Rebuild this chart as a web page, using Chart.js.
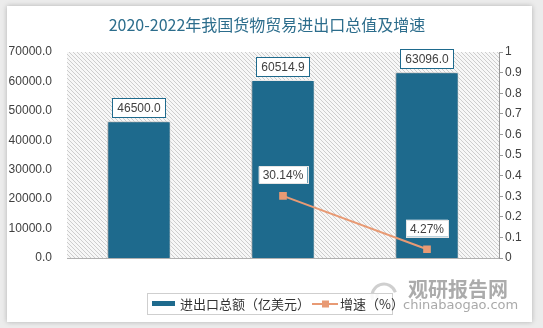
<!DOCTYPE html>
<html>
<head>
<meta charset="utf-8">
<script src="https://cdn.jsdelivr.net/npm/chart.js@4.4.1/dist/chart.umd.min.js"></script>
<style>
  html, body { margin: 0; padding: 0; background: #ececec; width: 543px; height: 328px; overflow: hidden; }
  #card { position: absolute; left: 7px; top: 6px; width: 525px; height: 316px; background: #fff; box-shadow: 0 0 5px rgba(0,0,0,0.25); }
  canvas { display: block; }
</style>
</head>
<body>
<div id="card"><canvas id="myChart" width="525" height="316"></canvas></div>
<script>
// chart data
const years = ["2020年", "2021年", "2022年"];
const totalTrade = [46500.0, 60514.9, 63096.0];   // 亿美元
const growthRate = [null, 0.3014, 0.0427];         // 增速
const growthLabels = [null, "30.14%", "4.27%"];

const titleText = "2020-2022年我国货物贸易进出口总值及增速";
const barLegend = "进出口总额（亿美元）";
const lineLegend = "增速（%）";

const barColor = "#1e6a8d";
const lineColor = "#e89a74";
const numFont = "'Liberation Sans', Arial, sans-serif";
const cjkFont = "'Noto Sans CJK SC', sans-serif";

// hatched background for the plot area
function makeHatch() {
    const c = document.createElement("canvas");
    c.width = 4; c.height = 4;
    const g = c.getContext("2d");
    g.fillStyle = "#f7f7f7";
    g.fillRect(0, 0, 4, 4);
    g.fillStyle = "#cdcdcd";
    for (let i = 0; i < 4; i++) g.fillRect(i, i, 1, 1);
    return g.createPattern(c, "repeat");
}

const decorPlugin = {
    id: "decor",
    beforeDraw(chart) {
        const { ctx, chartArea: a } = chart;
        ctx.save();
        ctx.fillStyle = makeHatch();
        ctx.fillRect(a.left, a.top, a.right - a.left, a.bottom - a.top);
        ctx.restore();
    },
    beforeDatasetDraw(chart, args) {
        if (chart.data.datasets[args.index].type === "bar") {
            const ctx = chart.ctx;
            ctx.save();
            ctx.shadowColor = "rgba(0,0,0,0.35)";
            ctx.shadowBlur = 3;
            ctx.shadowOffsetX = -1;
            ctx.shadowOffsetY = 0;
        }
    },
    afterDatasetDraw(chart, args) {
        if (chart.data.datasets[args.index].type === "bar") chart.ctx.restore();
    },
    afterDatasetsDraw(chart) {
        const ctx = chart.ctx;
        ctx.save();
        ctx.textAlign = "center";
        ctx.textBaseline = "middle";
        ctx.font = "12px " + numFont;

        // bar value labels
        chart.getDatasetMeta(1).data.forEach((el, i) => {
            const txt = totalTrade[i].toFixed(1);
            const w = ctx.measureText(txt).width + 10, h = 19;
            const x = el.x, y = el.y - 4 - h / 2;
            ctx.fillStyle = "#fff";
            ctx.fillRect(x - w / 2, y - h / 2, w, h);
            ctx.strokeStyle = barColor;
            ctx.lineWidth = 1;
            ctx.strokeRect(Math.round(x - w / 2) + 0.5, Math.round(y - h / 2) + 0.5, Math.round(w), h);
            ctx.fillStyle = "#404040";
            ctx.fillText(txt, x, y + 1);
        });

        // growth labels
        chart.getDatasetMeta(0).data.forEach((el, i) => {
            const txt = growthLabels[i];
            if (!txt || growthRate[i] === null) return;
            const w = ctx.measureText(txt).width + 8, h = 17;
            const x = el.x, y = el.y - 21;
            ctx.fillStyle = "#fff";
            ctx.fillRect(x - w / 2, y - h / 2, w, h);
            ctx.strokeStyle = "#e4e4e4";
            ctx.strokeRect(Math.round(x - w / 2) + 0.5, Math.round(y - h / 2) + 0.5, Math.round(w), h);
            ctx.fillStyle = "#404040";
            ctx.fillText(txt, x, y + 1);
        });
        ctx.restore();
    },
    afterDraw(chart) {
        const ctx = chart.ctx;
        ctx.save();
        // title
        ctx.textAlign = "center";
        ctx.textBaseline = "middle";
        ctx.fillStyle = "#2c6d8c";
        ctx.font = "16px " + cjkFont;
        ctx.fillText(titleText, 260, 19);

        // watermark
        ctx.strokeStyle = "rgba(160,160,160,0.5)";
        ctx.lineWidth = 3;
        ctx.beginPath(); ctx.arc(377, 290, 12, Math.PI * 0.9, Math.PI * 1.9); ctx.stroke();
        ctx.beginPath(); ctx.arc(377, 290, 7, Math.PI * 0.2, Math.PI * 1.1); ctx.stroke();
        ctx.textAlign = "left";
        ctx.fillStyle = "rgba(135,135,135,0.7)";
        ctx.font = "bold 20px " + cjkFont;
        ctx.fillText("观研报告网", 401, 283);
        ctx.font = "13px 'DejaVu Sans', sans-serif";
        ctx.fillStyle = "rgba(140,140,140,0.75)";
        ctx.fillText("chinabaogao.com", 396, 300);

        // legend
        ctx.fillStyle = "rgba(255,255,255,0.85)";
        ctx.fillRect(140, 287, 245, 21);
        ctx.strokeStyle = "#cfcfcf";
        ctx.lineWidth = 1;
        ctx.strokeRect(140.5, 287.5, 245, 21);
        ctx.fillStyle = barColor;
        ctx.fillRect(145, 295, 23, 5);
        ctx.fillStyle = "#333";
        ctx.font = "13px " + cjkFont;
        ctx.fillText(barLegend, 173, 298);
        ctx.strokeStyle = lineColor;
        ctx.lineWidth = 2;
        ctx.beginPath(); ctx.moveTo(305, 298); ctx.lineTo(331, 298); ctx.stroke();
        ctx.fillStyle = lineColor;
        ctx.fillRect(315, 294.5, 7, 7);
        ctx.fillStyle = "#333";
        ctx.fillText(lineLegend, 333, 298);
        ctx.restore();
    }
};

new Chart(document.getElementById("myChart"), {
    data: {
        labels: years,
        datasets: [
            {
                type: "line",
                label: lineLegend,
                data: growthRate,
                yAxisID: "y1",
                borderColor: lineColor,
                backgroundColor: lineColor,
                borderWidth: 2,
                pointStyle: "rect",
                pointRadius: 4,
                pointHoverRadius: 4,
                order: 0
            },
            {
                type: "bar",
                label: barLegend,
                data: totalTrade,
                yAxisID: "y",
                backgroundColor: barColor,
                borderColor: "#ffffff",
                borderWidth: 1,
                categoryPercentage: 1,
                barPercentage: 0.44,
                order: 1
            }
        ]
    },
    options: {
        responsive: false,
        animation: false,
        layout: { padding: { top: 46, bottom: 64, left: 0, right: 0 } },
        plugins: {
            legend: { display: false },
            title: { display: false },
            tooltip: { enabled: false }
        },
        scales: {
            x: {
                grid: { display: false },
                border: { display: true, color: "#b0b0b0", width: 1 },
                ticks: { color: "#333", font: { size: 12, family: cjkFont }, padding: 8 },
                afterFit(scale) { scale.height = 0; }
            },
            y: {
                position: "left",
                min: 0,
                max: 70000,
                grid: { display: false },
                border: { display: false },
                ticks: {
                    stepSize: 10000,
                    color: "#404040",
                    font: { size: 12, family: numFont },
                    padding: 7,
                    callback: v => Number(v).toFixed(1)
                },
                afterFit(scale) { scale.width = 60; }
            },
            y1: {
                position: "right",
                min: 0,
                max: 1,
                grid: { drawOnChartArea: false, drawTicks: true, tickLength: 4, color: "#999" },
                border: { display: true, color: "#999", width: 1 },
                ticks: {
                    stepSize: 0.1,
                    color: "#404040",
                    font: { size: 12, family: numFont },
                    padding: 2,
                    callback: v => String(Number(v.toFixed(1)))
                },
                afterFit(scale) { scale.width = 33; }
            }
        }
    },
    plugins: [decorPlugin]
});
</script>
</body>
</html>
